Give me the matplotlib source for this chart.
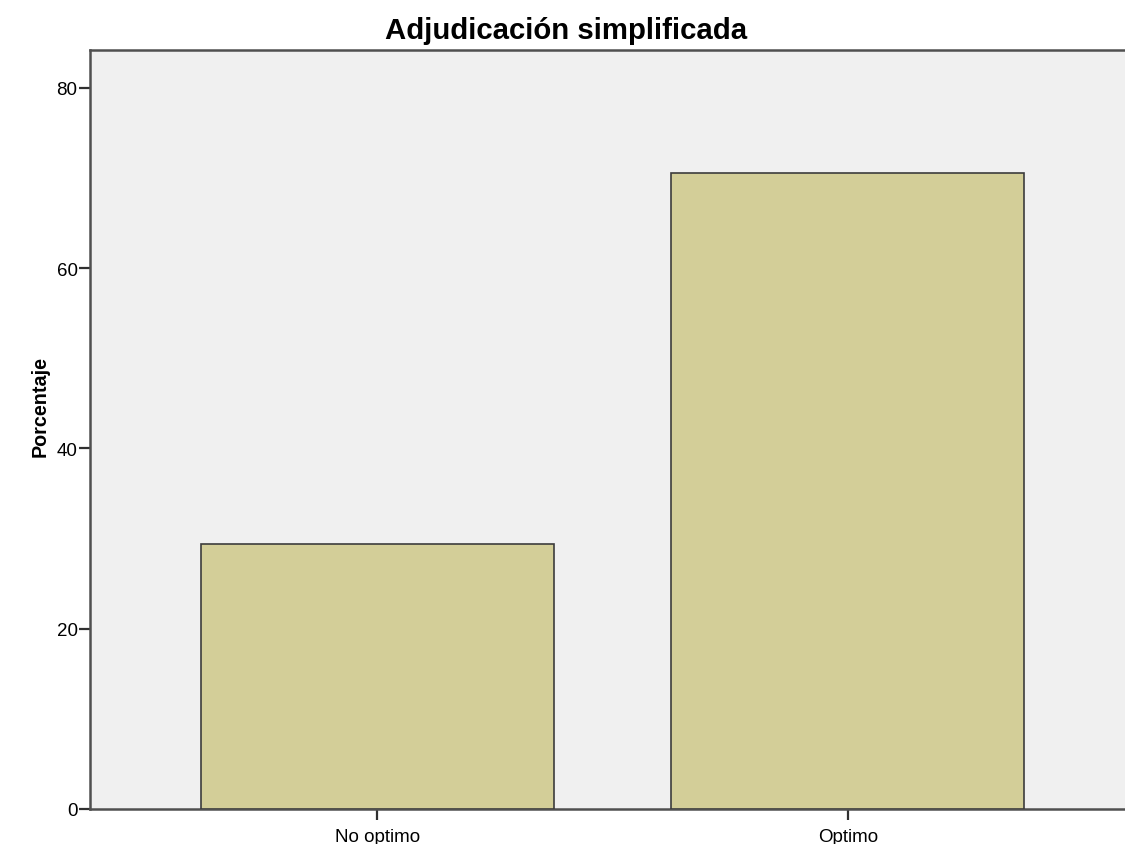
"""Bar chart: Adjudicación simplificada (percentage by category)."""

import matplotlib
matplotlib.use("Agg")
import matplotlib.pyplot as plt

categories = ["No optimo", "Optimo"]
percentages = [29.4, 70.6]
y_ticks = [0, 20, 40, 60, 80]

plt.rcParams.update({
    "font.family": ["Liberation Sans", "DejaVu Sans"],
    "font.size": 13,
})

fig = plt.figure(figsize=(11.25, 8.45), dpi=100)
ax = fig.add_axes([90 / 1125, 35 / 845, 1035 / 1125, 759 / 845])
ax.set_facecolor("#f0f0f0")

x = range(len(categories))
ax.bar(x, percentages, width=0.75, color="#d3ce98",
       edgecolor="#3c3c3c", linewidth=1.2, zorder=3)

ax.set_xlim(-0.611, 1.589)
ax.set_ylim(0, 84.2)
ax.set_xticks(list(x))
ax.set_xticklabels(categories, fontsize=13.5)
ax.set_yticks(y_ticks)
ax.set_yticklabels([str(v) for v in y_ticks], fontsize=13.5)

for side in ["left", "bottom", "top"]:
    ax.spines[side].set_color("#505050")
    ax.spines[side].set_linewidth(1.8)
ax.spines["right"].set_visible(False)

ax.tick_params(axis="y", length=8, width=1.6, color="#303030", pad=1)
ax.tick_params(axis="x", length=8, width=1.6, color="#303030", pad=6)

fig.text(566 / 1125, 1 - 31 / 845, "Adjudicación simplificada",
         ha="center", va="center", fontsize=21.2, fontweight="bold")
fig.text(40 / 1125, 1 - 407 / 845, "Porcentaje", rotation=90,
         ha="center", va="center", fontsize=14.2, fontweight="bold")

fig.savefig("out.png", dpi=100)
